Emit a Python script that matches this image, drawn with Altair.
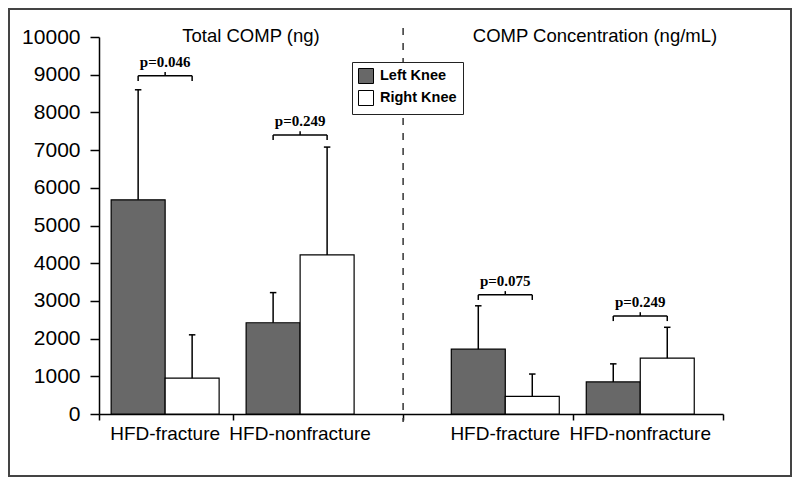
import altair as alt
import pandas as pd

# ---- data ----
group_labels = ["HFD-fracture", "HFD-nonfracture", "HFD-fracture", "HFD-nonfracture"]
knees = ["Left Knee", "Right Knee"]
left_mean = [5680, 2420, 1720, 850]
left_sd = [2920, 800, 1150, 480]
right_mean = [950, 4220, 470, 1480]
right_sd = [1150, 2860, 590, 820]
p_labels = ["p=0.046", "p=0.249", "p=0.075", "p=0.249"]
bracket_y = [8970, 7400, 3160, 2600]
panel_titles = ["Total COMP (ng)", "COMP Concentration (ng/mL)"]
y_ticks = list(range(0, 10001, 1000))

# ---- layout (category slots) ----
group_pos = [0, 1, 2.52, 3.52]
x_bounds = [-0.49, 0.504, 1.763, 3.022, 4.133]
bar_w = 0.4
cap = 0.024

rows = []
for i in range(4):
    for knee, m, s in ((knees[0], left_mean[i], left_sd[i]), (knees[1], right_mean[i], right_sd[i])):
        x0 = group_pos[i] - bar_w if knee == knees[0] else group_pos[i]
        rows.append(dict(id=i, label=group_labels[i], knee=knee, mean=m, top=m + s,
                         x0=x0, x1=x0 + bar_w, xc=x0 + bar_w / 2,
                         cl=x0 + bar_w / 2 - cap, cr=x0 + bar_w / 2 + cap))
bars_df = pd.DataFrame(rows)

br_df = pd.DataFrame(dict(pos=group_pos, by=bracket_y, p=p_labels,
                          bl=[g - bar_w / 2 for g in group_pos],
                          brr=[g + bar_w / 2 for g in group_pos]))
tick_rows = []
for g, b in zip(group_pos, bracket_y):
    tick_rows.append(dict(x=g - bar_w / 2, ya=b - 135, yb=b))
    tick_rows.append(dict(x=g + bar_w / 2, ya=b - 135, yb=b))
    tick_rows.append(dict(x=g, ya=b, yb=b + 100))
tick_df = pd.DataFrame(tick_rows)
cat_df = pd.DataFrame(dict(pos=group_pos, label=group_labels))

xs = alt.Scale(domain=[x_bounds[0], x_bounds[-1]], range=[90, 714], nice=False, zero=False)
ys = alt.Scale(domain=[0, 10000], range=[405, 28], nice=False, zero=False)

xax = alt.Axis(values=x_bounds, labels=False, tickSize=6, tickColor='black', tickWidth=1.5,
               domainColor='black', domainWidth=1.5, grid=False, title=None, offset=-62)
yax = alt.Axis(values=y_ticks, tickSize=9, tickColor='black', tickWidth=1.5,
               domainColor='black', domainWidth=1.5, grid=False, title=None, offset=-90,
               labelFont='Liberation Sans', labelFontSize=21, labelColor='black',
               labelPadding=10, format='d')

bars = alt.Chart(bars_df).mark_rect(stroke='black', strokeWidth=1.2).encode(
    x=alt.X('x0:Q', scale=xs, axis=xax),
    x2='x1:Q',
    y=alt.Y('mean:Q', scale=ys, axis=yax),
    y2=alt.datum(0),
    fill=alt.Fill('knee:N', scale=alt.Scale(domain=knees, range=['#686868', '#ffffff']),
                  legend=alt.Legend(title=None, orient='none', legendX=343, legendY=53,
                                    symbolType='square', symbolSize=225,
                                    symbolStrokeColor='black', symbolStrokeWidth=1,
                                    labelFont='Liberation Sans', labelFontSize=14.5,
                                    labelFontWeight='bold', labelColor='black',
                                    labelOffset=6, rowPadding=2, padding=6,
                                    strokeColor='#222', fillColor='white'))
)

err = alt.Chart(bars_df).mark_rule(color='black', strokeWidth=1.5).encode(
    x=alt.X('xc:Q', scale=xs, axis=xax),
    y=alt.Y('mean:Q', scale=ys, axis=yax),
    y2='top:Q')
caps = alt.Chart(bars_df).mark_rule(color='black', strokeWidth=1.5).encode(
    x=alt.X('cl:Q', scale=xs, axis=xax), x2='cr:Q',
    y=alt.Y('top:Q', scale=ys, axis=yax))

br_h = alt.Chart(br_df).mark_rule(color='black', strokeWidth=1.5).encode(
    x=alt.X('bl:Q', scale=xs, axis=xax), x2='brr:Q',
    y=alt.Y('by:Q', scale=ys, axis=yax))
br_t = alt.Chart(tick_df).mark_rule(color='black', strokeWidth=1.5).encode(
    x=alt.X('x:Q', scale=xs, axis=xax),
    y=alt.Y('ya:Q', scale=ys, axis=yax), y2='yb:Q')
p_txt = alt.Chart(br_df).mark_text(font='Liberation Serif', fontWeight='bold', fontSize=15,
                                   color='black', dy=-9, baseline='alphabetic').encode(
    x=alt.X('pos:Q', scale=xs, axis=xax),
    y=alt.Y('by:Q', scale=ys, axis=yax),
    text='p:N')

cats = alt.Chart(cat_df).mark_text(font='Liberation Sans', fontSize=19, color='black',
                                   baseline='alphabetic').encode(
    x=alt.X('pos:Q', scale=xs, axis=xax),
    y=alt.value(431),
    text='label:N')

dash = alt.Chart(pd.DataFrame({'x': [x_bounds[2]]})).mark_rule(
    color='#333', strokeWidth=1.5, strokeDash=[7, 8]).encode(
    x=alt.X('x:Q', scale=xs, axis=xax), y=alt.value(19), y2=alt.value(413))

t1 = alt.Chart(pd.DataFrame({'t': [panel_titles[0]]})).mark_text(
    font='Liberation Sans', fontSize=18.5, color='black', baseline='alphabetic').encode(
    x=alt.value(242), y=alt.value(33), text='t:N')
t2 = alt.Chart(pd.DataFrame({'t': [panel_titles[1]]})).mark_text(
    font='Liberation Sans', fontSize=18.5, color='black', baseline='alphabetic').encode(
    x=alt.value(586), y=alt.value(33), text='t:N')

chart = alt.layer(dash, bars, err, caps, br_h, br_t, p_txt, cats, t1, t2).properties(
    width=782, height=467,
    autosize=alt.AutoSizeParams(type='none'),
    padding={'left': 1, 'top': 1, 'right': 1, 'bottom': 1},
    background='white'
).configure_view(stroke='#444', strokeWidth=2)

chart.save("out.html", embed_options={"renderer": "svg", "actions": False})
